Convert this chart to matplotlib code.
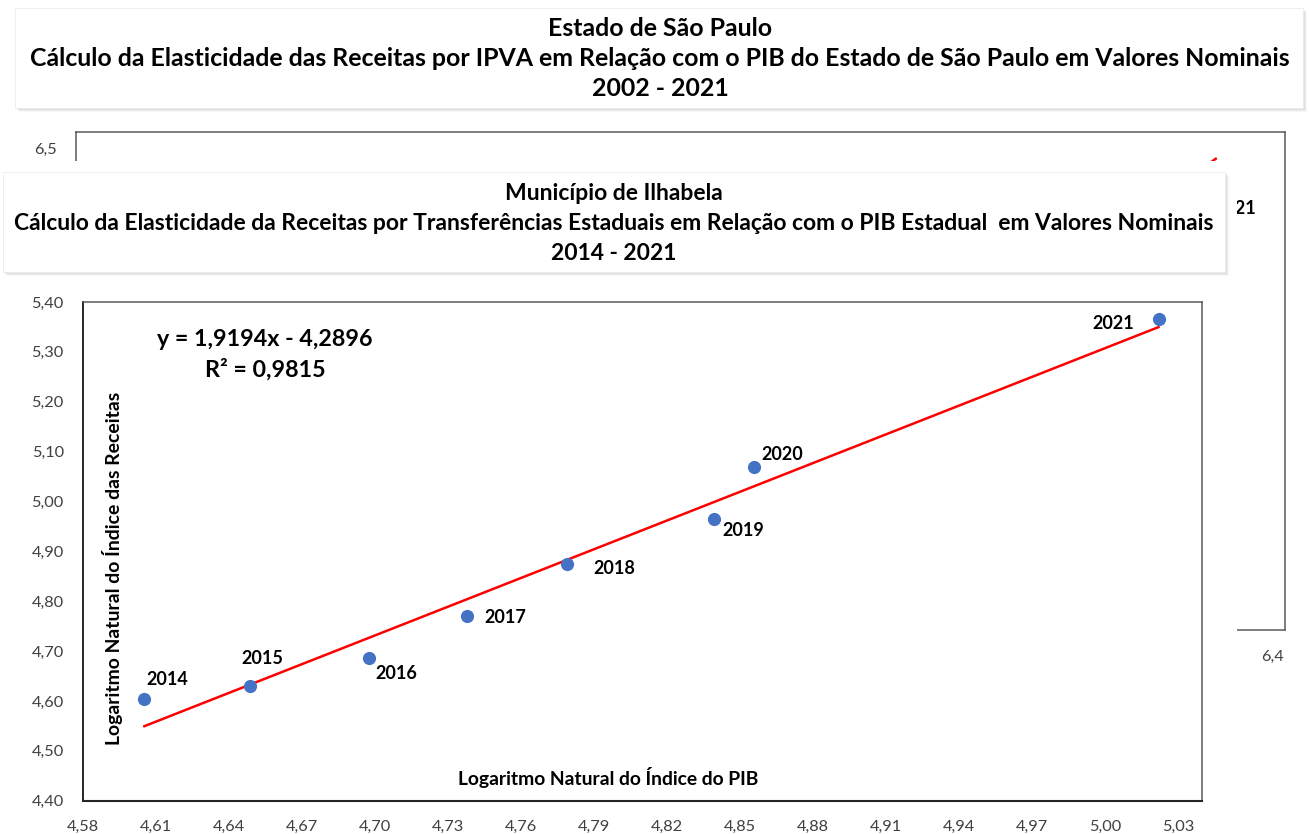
import matplotlib
matplotlib.use('Agg')
import matplotlib.pyplot as plt
from matplotlib.patches import Rectangle
import numpy as np

# ---------------- data ----------------
years = ['2014', '2015', '2016', '2017', '2018', '2019', '2020', '2021']
ln_pib = [4.6051, 4.6484, 4.6975, 4.7378, 4.7788, 4.8392, 4.8558, 5.0220]
ln_receitas = [4.6033, 4.6300, 4.6868, 4.7704, 4.8746, 4.9643, 5.0685, 5.3659]
trend_slope = 1.9194
trend_intercept = -4.2896
trend_r2 = 0.9815

x_tick_values = [4.58, 4.61, 4.64, 4.67, 4.70, 4.73, 4.76, 4.79, 4.82, 4.85,
                 4.88, 4.91, 4.94, 4.97, 5.00, 5.03]
y_tick_values = [4.40, 4.50, 4.60, 4.70, 4.80, 4.90, 5.00, 5.10, 5.20, 5.30, 5.40]

fg_title = ['Município de Ilhabela',
            'Cálculo da Elasticidade da Receitas por Transferências Estaduais em Relação com o PIB Estadual  em Valores Nominais',
            '2014 - 2021']
bg_title = ['Estado de São Paulo',
            'Cálculo da Elasticidade das Receitas por IPVA em Relação com o PIB do Estado de São Paulo em Valores Nominais',
            '2002 - 2021']
x_label = 'Logaritmo Natural do Índice do PIB'
y_label = 'Logaritmo Natural do Índice das Receitas'

# background (partly hidden) chart: only the visible bits
bg_trend_x = [6.00, 6.31]
bg_trend_y = [5.60, 6.437]
bg_label_year = '2021'
bg_label_pos = (6.374, 6.135)
bg_y_ticks = [6.5]
bg_x_ticks = [6.4]

# ---------------- figure ----------------
W, H = 1309, 834
FONT = ['Lato', 'DejaVu Sans']
plt.rcParams['font.family'] = FONT
fig = plt.figure(figsize=(W / 100, H / 100), dpi=100)
fig.patch.set_facecolor('white')
renderer = fig.canvas.get_renderer()


def axrect(l, t, r, b):
    return [l / W, 1 - b / H, (r - l) / W, (b - t) / H]


def fit_size(s, width_px, weight='normal', base=12.0):
    t = fig.text(0, 0, s, fontsize=base, fontweight=weight)
    w = t.get_window_extent(renderer=renderer).width
    t.remove()
    return base * width_px / w


def comma(v, nd):
    return f'{v:.{nd}f}'.replace('.', ',')


def box(l, t, r, b, z):
    for i, a in enumerate([0.08, 0.06, 0.04, 0.03]):
        fig.add_artist(Rectangle((l / W + (i + 1) / W, 1 - b / H - (i + 1) / H),
                                 (r - l) / W, (b - t) / H, transform=fig.transFigure,
                                 facecolor='black', edgecolor='none', alpha=a, zorder=z))
    fig.add_artist(Rectangle((l / W, 1 - b / H), (r - l) / W, (b - t) / H,
                             transform=fig.transFigure, facecolor='white',
                             edgecolor='#ececec', linewidth=0.6, zorder=z + 0.1))


tick_fs = fit_size('4,58', 32)
lab_fs = fit_size('2017', 41.5, 'bold')
title_fs_fg = fit_size(fg_title[1], 1198, 'bold')
title_fs_bg = fit_size(bg_title[1], 1255, 'bold')
eq_fs = fit_size('y = 1,9194x - 4,2896', 214, 'bold')
xl_fs = fit_size(x_label, 300, 'bold')
yl_fs = fit_size(y_label, 351, 'bold')

# ---- background chart (Estado de São Paulo) ----
ax_bg = fig.add_axes(axrect(76, 131.7, 1285, 630))
ax_bg.set_zorder(0)
ax_bg.set_xlim(4.5, 6.42)
ax_bg.set_ylim(3.6, 6.6)
ax_bg.set_xticks(bg_x_ticks, [comma(v, 1) for v in bg_x_ticks])
ax_bg.set_yticks(bg_y_ticks, [comma(v, 1) for v in bg_y_ticks])
ax_bg.tick_params(length=0, labelsize=tick_fs, colors='#404040', pad=14)
for s in ax_bg.spines.values():
    s.set_color('#595959')
    s.set_linewidth(1.1)
ax_bg.plot(bg_trend_x, bg_trend_y, color='#ff0000', lw=1.8)
ax_bg.text(bg_label_pos[0], bg_label_pos[1], bg_label_year, ha='right', va='center',
           fontsize=lab_fs, fontweight='bold', color='black')

box(15, 8, 1303, 108, 0.5)
for i, line in enumerate(bg_title):
    fig.text(660 / W, 1 - (28 + 30 * i) / H, line, ha='center', va='center',
             fontsize=title_fs_bg, fontweight='bold', color='black', zorder=0.7)

# ---- cover (the pasted foreground picture) ----
cover = fig.add_axes(axrect(0, 161, 1237, 834))
cover.set_zorder(1)
cover.set_xticks([])
cover.set_yticks([])
for s in cover.spines.values():
    s.set_visible(False)
cover.set_facecolor('white')

# ---- foreground chart (Município de Ilhabela) ----
ax = fig.add_axes(axrect(83.3, 302, 1202.3, 800.7))
ax.set_zorder(2)
ax.set_xlim(4.58, 5.04)
ax.set_ylim(4.40, 5.40)
ax.set_xticks(x_tick_values, [comma(v, 2) for v in x_tick_values])
ax.set_yticks(y_tick_values, [comma(v, 2) for v in y_tick_values])
ax.tick_params(length=0, labelsize=tick_fs, colors='#404040', pad=14)
for s in ax.spines.values():
    s.set_color('#595959')
    s.set_linewidth(1.1)
ax.spines['bottom'].set_color('#262626')
ax.spines['bottom'].set_linewidth(1.5)
ax.spines['left'].set_color('#262626')
ax.spines['left'].set_linewidth(1.4)

tx = np.array([min(ln_pib), max(ln_pib)])
ax.plot(tx, trend_slope * tx + trend_intercept, color='#ff0000', lw=1.8, zorder=2)
ax.scatter(ln_pib, ln_receitas, s=90, color='#4472c4', zorder=3, linewidths=0)

label_offsets = [(23, 20), (13, 27), (27, -16), (38, -2), (47, -4), (29, -11), (28, 13), (-45, -4)]
for yr, xv, yv, off in zip(years, ln_pib, ln_receitas, label_offsets):
    ax.annotate(yr, (xv, yv), xytext=off, textcoords='offset pixels', ha='center',
                va='center', fontsize=lab_fs, fontweight='bold', color='black')

sign = '-' if trend_intercept < 0 else '+'
eq = f'y = {comma(trend_slope, 4)}x {sign} {comma(abs(trend_intercept), 4)}'
fig.text(265 / W, 1 - 339 / H, eq, ha='center', va='center', fontsize=eq_fs,
         fontweight='bold', color='black', zorder=4)
fig.text(265 / W, 1 - 370 / H, f'R² = {comma(trend_r2, 4)}', ha='center', va='center',
         fontsize=eq_fs, fontweight='bold', color='black', zorder=4)

fig.text(608 / W, 1 - 778 / H, x_label, ha='center', va='center', fontsize=xl_fs,
         fontweight='bold', color='black', zorder=4)
fig.text(113 / W, 1 - 568 / H, y_label, ha='center', va='center', rotation=90,
         fontsize=yl_fs, fontweight='bold', color='black', zorder=4)

box(3, 172, 1225, 272, 5)
for i, line in enumerate(fg_title):
    fig.text(614 / W, 1 - (193 + 30 * i) / H, line, ha='center', va='center',
             fontsize=title_fs_fg, fontweight='bold', color='black', zorder=6)

fig.savefig('out.png', dpi=100, facecolor='white')
